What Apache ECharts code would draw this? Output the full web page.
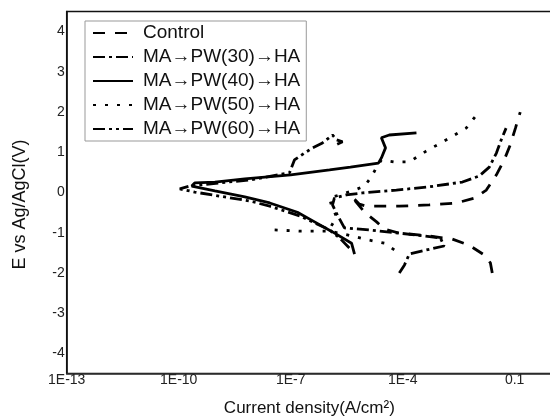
<!DOCTYPE html>
<html>
<head>
<meta charset="utf-8">
<script src="https://cdn.jsdelivr.net/npm/echarts@6/dist/echarts.min.js"></script>
<style>
  html, body { margin: 0; padding: 0; background: #fff; }
  #chart { width: 550px; height: 416px; }
</style>
</head>
<body>
<div id="chart"></div>
<script>
// series names
var names = ['Control', 'MA→PW(30)→HA', 'MA→PW(40)→HA', 'MA→PW(50)→HA', 'MA→PW(60)→HA'];
// x tick positions (log10 of current density)
var xTicks = [-13, -10, -7, -4, -1];

// [current density (A/cm2), potential (V)], null = pen up
var control = [
  [2.51e-2, -2.00], [2.24e-2, -1.75], [1.51e-2, -1.55], [6.03e-3, -1.31], [2.14e-3, -1.16],
  [5.13e-4, -1.08], [8.13e-5, -1.01], [3.24e-5, -0.91], [2.0e-5, -0.73], [9.55e-6, -0.49],
  [5.13e-6, -0.19], [4.27e-6, -0.09], [6.92e-6, -0.29], [1.07e-5, -0.34], [8.13e-5, -0.34],
  [5.13e-4, -0.31], [2.75e-3, -0.26], [8.32e-3, -0.14], [1.74e-2, 0.06], [3.24e-2, 0.44],
  [5.25e-2, 0.81], [7.59e-2, 1.18], [1.05e-1, 1.60], [1.41e-1, 2.00]
];
var pw30 = [
  [8.13e-5, -2.00], [1.12e-4, -1.80], [1.51e-4, -1.53], [4.27e-4, -1.43], [1.29e-3, -1.33],
  [1.02e-3, -1.13], [3.80e-4, -1.08], [8.13e-5, -1.01], [1.29e-5, -0.93], [2.75e-6, -0.88],
  [1.78e-6, -0.56], [1.32e-6, -0.31], [1.48e-6, -0.14], [3.09e-6, -0.06], [8.32e-6, -0.01],
  [6.76e-5, 0.06], [5.13e-4, 0.14], [3.98e-3, 0.26], [1.12e-2, 0.41], [2.09e-2, 0.63],
  [3.24e-2, 0.98], [4.37e-2, 1.31], [5.89e-2, 1.60]
];
var pw40 = [
  [5.13e-6, -1.53], [4.27e-6, -1.26], [1.32e-6, -0.98], [4.37e-7, -0.73], [1.51e-7, -0.49],
  [2.75e-8, -0.26], [5.89e-9, -0.11], [9.33e-10, 0.04], [2.24e-10, 0.16], [2.69e-10, 0.24],
  [9.33e-10, 0.26], [5.89e-9, 0.34], [1.0e-7, 0.44], [1.10e-6, 0.56], [3.98e-6, 0.63],
  [2.24e-5, 0.73], [2.69e-5, 0.86], [3.47e-5, 1.11], [2.69e-5, 1.36], [4.37e-5, 1.43],
  [2.34e-4, 1.48]
];
var pw50 = [
  [3.72e-8, -0.93], [1.74e-7, -0.96], [1.10e-6, -0.96], [3.5e-6, -1.06], [1.2e-5, -1.18],
  [3.24e-5, -1.26], [6.03e-5, -1.43],
  null,
  [1.23e-6, -0.83], [1.70e-6, -0.61], [1.23e-6, -0.31], [1.10e-6, -0.14], [2.04e-6, -0.06],
  [5.13e-6, 0.06], [9.55e-6, 0.16], [1.45e-5, 0.39], [2.09e-5, 0.66], [2.69e-5, 0.81],
  [6.03e-5, 0.76], [1.51e-4, 0.76], [4.27e-4, 1.03], [1.48e-3, 1.31], [5.01e-3, 1.60],
  [8.71e-3, 1.88]
];
var pw60 = [
  [3.72e-6, -1.38], [2.04e-6, -1.13], [1.10e-6, -0.93], [1.74e-7, -0.58], [2.75e-8, -0.34],
  [7.94e-9, -0.21], [1.26e-9, -0.09], [2.69e-10, 0.01], [1.07e-10, 0.09], [1.95e-10, 0.16],
  [1.26e-9, 0.24], [7.94e-9, 0.31], [9.33e-8, 0.49], [1.26e-7, 0.81], [2.34e-7, 0.98],
  [3.89e-7, 1.11], [7.08e-7, 1.23], [1.32e-6, 1.43], [1.70e-6, 1.31], [2.45e-6, 1.26],
  [1.58e-6, 1.18]
];

var curves = [control, pw30, pw40, pw50, pw60];
var dashes = [[12, 10], [12, 4, 3, 4], 'solid', [3, 9], [12, 4, 3, 4, 3, 4]];

var chart = echarts.init(document.getElementById('chart'));
var font = "'Liberation Sans', Arial, sans-serif";

chart.setOption({
  animation: false,
  textStyle: { fontFamily: font },
  grid: {
    left: 66.7, right: -2, top: 11.5, bottom: 42.5,
    outerBoundsMode: 'none',
    show: true, borderColor: '#111', borderWidth: 1.5
  },
  legend: {
    orient: 'vertical',
    left: 85, top: 21,
    padding: [0, 6, 0, 7],
    itemGap: 0,
    itemWidth: 40,
    itemHeight: 14,
    itemStyle: { opacity: 0 },
    borderColor: '#999', borderWidth: 1,
    backgroundColor: '#fff',
    textStyle: { fontSize: 19, color: '#111', lineHeight: 24, padding: [0, 0, 0, 5] },
    data: names
  },
  xAxis: {
    type: 'value',
    min: -13, max: 0, interval: 3,
    name: 'Current density(A/cm²)',
    nameLocation: 'middle', nameGap: 26,
    nameTextStyle: { fontSize: 17, color: '#111' },
    axisLine: { onZero: false, lineStyle: { color: '#333', width: 1.5 } },
    axisTick: { show: false },
    splitLine: { show: false },
    axisLabel: {
      fontSize: 14, color: '#222', margin: 0, showMaxLabel: false,
      formatter: function (v) { return v === -1 ? '0.1' : '1E' + v; }
    }
  },
  yAxis: {
    type: 'value',
    min: -4.5, max: 4.5, interval: 0.5,
    name: 'E vs Ag/AgCl(V)',
    nameLocation: 'middle', nameGap: 38,
    nameTextStyle: { fontSize: 18, color: '#111', padding: [0, 24, 0, 0] },
    axisLine: { onZero: false, lineStyle: { color: '#111', width: 1.5 } },
    axisTick: { show: false },
    splitLine: { show: false },
    axisLabel: {
      fontSize: 14, color: '#222', margin: 2,
      formatter: function (v) { return Number.isInteger(v) && Math.abs(v) < 4.5 ? String(v) : ''; }
    }
  },
  series: curves.map(function (c, k) {
    return {
      name: names[k],
      type: 'line',
      symbol: 'none',
      color: '#000',
      connectNulls: false,
      lineStyle: { color: '#000', width: 2.8, type: dashes[k] },
      data: c.map(function (p) { return p ? [Math.log10(p[0]), p[1]] : ['-', '-']; })
    };
  })
});
</script>
</body>
</html>
